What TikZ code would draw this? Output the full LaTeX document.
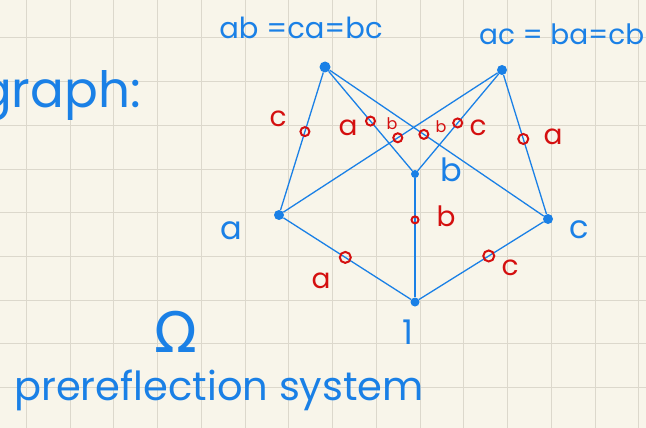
\documentclass[tikz,border=0pt]{standalone}
\usepackage{fontspec}
\setmainfont{Poppins}
\newfontfamily\symfont{DejaVu Sans}
\definecolor{paper}{HTML}{F8F5EA}
\definecolor{gridc}{HTML}{DCD8CC}
\definecolor{ink}{HTML}{1A80E6}
\definecolor{redink}{HTML}{D40F0F}
\begin{document}
\begin{tikzpicture}[x=1pt,y=-1pt,
  dot/.style={circle,fill=ink,inner sep=0pt,minimum size=8pt},
  ring/.style={circle,draw=redink,line width=2pt,inner sep=0pt,minimum size=9pt},
  edge/.style={draw=ink,line width=1.3pt},
  bluetxt/.style={text=ink,inner sep=0pt,font=\fontsize{32}{34}\selectfont},
  redtxt/.style={text=redink,inner sep=0pt,font=\fontsize{28}{30}\selectfont},
  redsmall/.style={text=redink,inner sep=0pt,font=\fontsize{16}{18}\selectfont}]
\fill[paper] (0,0) rectangle (646,428);
\useasboundingbox (0,0) rectangle (646,428);
\foreach \k in {0,...,14} {\draw[gridc,line width=1pt] ({26.3+43.75*\k},0) -- ({26.3+43.75*\k},428);}
\foreach \k in {0,...,8} {\draw[gridc,line width=1pt] (0,{38+43.7*\k}) -- (646,{38+43.7*\k});}
% vertices
\node[dot,minimum size=11pt] (TL) at (325,67) {};
\node[dot,minimum size=10pt] (TR) at (502,70) {};
\node[dot,minimum size=8pt] (B) at (415,174) {};
\node[dot,minimum size=10pt] (A) at (279,215) {};
\node[dot,minimum size=10pt] (C) at (548,219) {};
\node[dot,minimum size=9pt] (one) at (415,302) {};
% edges
\path[edge] (TL) -- (A) node[ring,pos=0.43] (r1) {};
\path[edge] (TL) -- (B) node[ring,pos=0.5] (r2) {};
\path[edge] (TR) -- (A) node[ring,pos=0.466] (r3) {};
\path[edge] (TL) -- (C) node[ring,pos=0.44] (r4) {};
\path[edge] (TR) -- (B) node[ring,pos=0.506] (r5) {};
\path[edge] (TR) -- (C) node[ring,pos=0.46,minimum size=10pt] (r6) {};
\path[edge] (B) -- (one) node[ring,pos=0.35,minimum size=7pt] (r7) {};
\path[edge] (A) -- (one) node[ring,pos=0.485,minimum size=11pt] (r8) {};
\path[edge] (C) -- (one) node[ring,pos=0.44,minimum size=11pt] (r9) {};
% red labels
\node[redtxt] (l1) at (278,119) {c};
\node[redtxt] (l2) at (348,128) {a};
\node[redsmall] (l3) at (392,124) {b};
\node[redsmall] (l4) at (441,127) {b};
\node[redtxt] (l5) at (478,128) {c};
\node[redtxt] (l6) at (553,137) {a};
\node[redtxt] (l7) at (446,216) {b};
\node[redtxt] (l8) at (321,281) {a};
\node[redtxt] (l9) at (510,268) {c};
% blue labels
\node[bluetxt,font=\fontsize{29}{30}\selectfont] (tl) at (301,28) {ab =ca=bc};
\node[bluetxt,font=\fontsize{28}{30}\selectfont,anchor=west] (tr) at (479,34) {ac = ba=cb};
\node[bluetxt] (la) at (231,231) {a};
\node[bluetxt] (lc) at (579,230) {c};
\node[bluetxt] (lb) at (451,170) {b};
\node[bluetxt,font=\fontsize{34}{36}\selectfont] (l1b) at (408,332) {1};
\node[bluetxt,font=\fontsize{50}{54}\selectfont,anchor=base west] (graph) at (-22,108) {graph:};
\node[bluetxt,font=\symfont\fontsize{56}{60}\selectfont] (omega) at (176,332) {Ω};
\node[bluetxt,font=\fontsize{40}{44}\selectfont,anchor=base west] (pre) at (14,400) {prereflection system};
\end{tikzpicture}
\end{document}
